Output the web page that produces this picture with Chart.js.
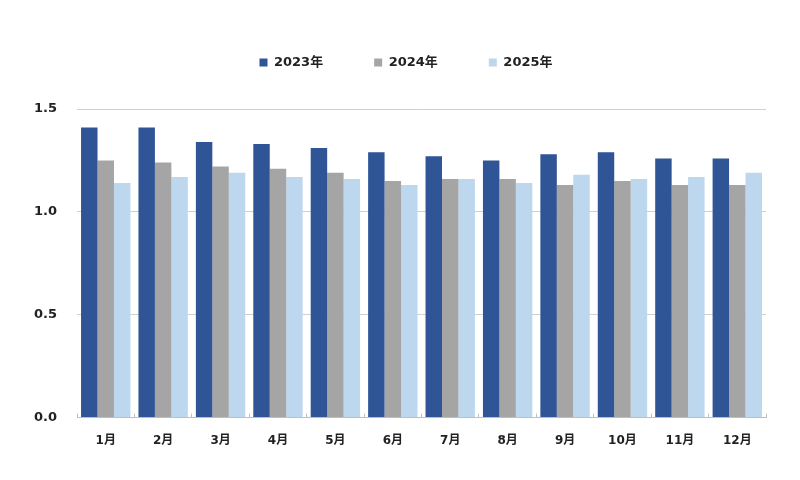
<!DOCTYPE html>
<html>
<head>
<meta charset="utf-8">
<script src="https://cdn.jsdelivr.net/npm/chart.js@4/dist/chart.umd.min.js"></script>
<style>
  html, body { margin: 0; padding: 0; background: #ffffff; }
  #wrap { width: 800px; height: 480px; }
</style>
</head>
<body>
<div id="wrap"><canvas id="c" width="800" height="480"></canvas></div>
<script>
const categories = ['1月','2月','3月','4月','5月','6月','7月','8月','9月','10月','11月','12月'];
const seriesNames = ['2023年','2024年','2025年'];
const values2023 = [1.41,1.41,1.34,1.33,1.31,1.29,1.27,1.25,1.28,1.29,1.26,1.26];
const values2024 = [1.25,1.24,1.22,1.21,1.19,1.15,1.16,1.16,1.13,1.15,1.13,1.13];
const values2025 = [1.14,1.17,1.19,1.17,1.16,1.13,1.16,1.14,1.18,1.16,1.17,1.19];
const yTicks = [0.0, 0.5, 1.0, 1.5];

const colors = ['#2F5597', '#A5A5A5', '#BDD7EE'];
const FONT = "'DejaVu Sans', 'Noto Sans CJK JP', sans-serif";

const LEGEND_HEIGHT = 104;
const LEGEND_SHIFT = 16;

const legendTweakPlugin = {
  id: 'legendTweak',
  beforeLayout(chart) {
    const lg = chart.legend;
    if (lg && !lg._patched) {
      const origFit = lg.fit.bind(lg);
      lg.fit = function () { origFit(); this.height = LEGEND_HEIGHT; };
      const origDraw = lg.draw.bind(lg);
      lg.draw = function () {
        this.left += LEGEND_SHIFT; this.right += LEGEND_SHIFT;
        origDraw();
        this.left -= LEGEND_SHIFT; this.right -= LEGEND_SHIFT;
      };
      lg._patched = true;
    }
  }
};

new Chart(document.getElementById('c'), {
  type: 'bar',
  data: {
    labels: categories,
    datasets: [
      { label: seriesNames[0], data: values2023, backgroundColor: colors[0] },
      { label: seriesNames[1], data: values2024, backgroundColor: colors[1] },
      { label: seriesNames[2], data: values2025, backgroundColor: colors[2] }
    ]
  },
  options: {
    responsive: false,
    animation: false,
    devicePixelRatio: 1,
    layout: { padding: { left: 14, right: 34, top: 5, bottom: 12 } },
    datasets: { bar: { categoryPercentage: 0.86, barPercentage: 1.0 } },
    plugins: {
      legend: {
        position: 'top',
        align: 'center',
        labels: {
          boxWidth: 8,
          boxHeight: 8,
          padding: 51,
          color: '#222222',
          font: { family: FONT, size: 13, weight: 'bold' }
        }
      },
      tooltip: { enabled: false }
    },
    scales: {
      x: {
        grid: { display: true, drawOnChartArea: false, drawTicks: true, tickLength: -4, offset: true, color: '#BFBFBF' },
        border: { display: true, color: '#BFBFBF', width: 1 },
        ticks: { color: '#222222', padding: 20, font: { family: FONT, size: 12, weight: 'bold' } }
      },
      y: {
        min: 0,
        max: 1.5,
        afterBuildTicks(axis) { axis.ticks = yTicks.map(v => ({ value: v })); },
        grid: { color: '#D0D0D0', drawTicks: false },
        border: { display: false },
        ticks: {
          color: '#222222',
          padding: 20,
          font: { family: FONT, size: 13, weight: 'bold' },
          callback: v => Number(v).toFixed(1)
        }
      }
    }
  },
  plugins: [legendTweakPlugin]
});
</script>
</body>
</html>
